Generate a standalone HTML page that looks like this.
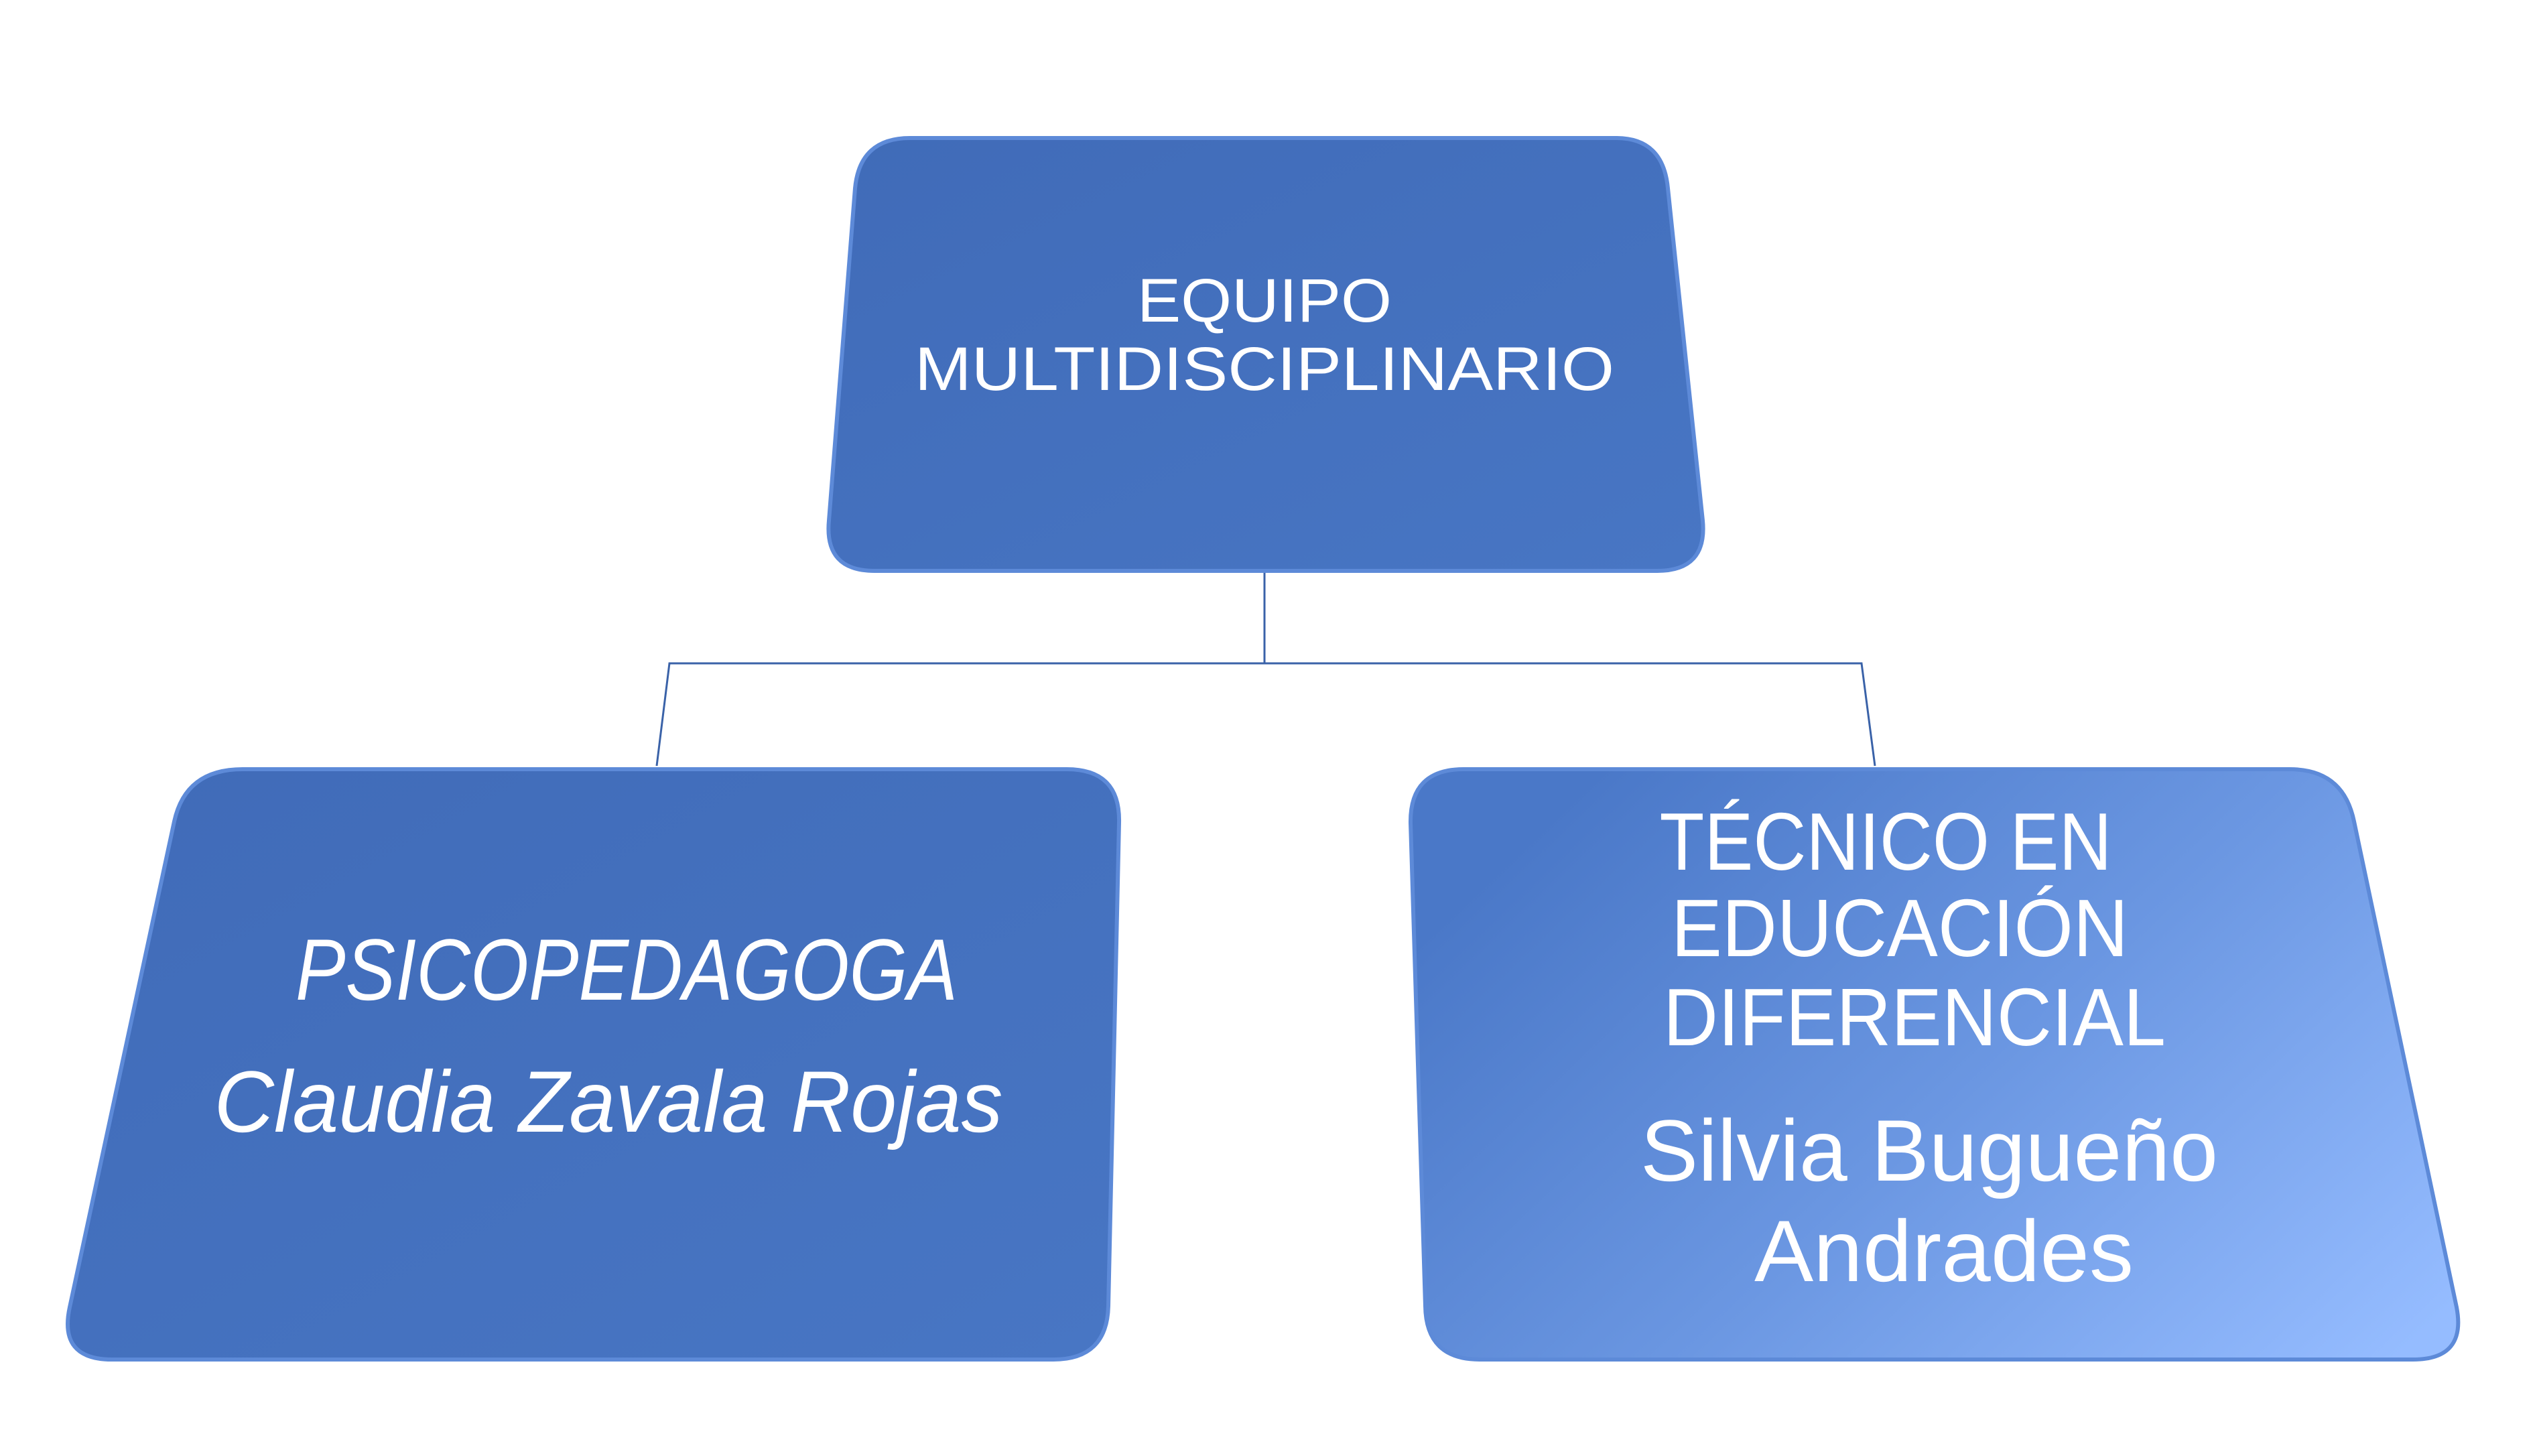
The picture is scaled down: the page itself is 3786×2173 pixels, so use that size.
<!DOCTYPE html>
<html><head><meta charset="utf-8"><style>
html,body{margin:0;padding:0;background:#fff;}
svg{display:block;}
text{font-family:"Liberation Sans",sans-serif;fill:#fff;}
</style></head><body>
<svg width="3786" height="2173" viewBox="0 0 3786 2173" xmlns="http://www.w3.org/2000/svg">
<defs>
<linearGradient id="g1" x1="0" y1="0" x2="1" y2="1">
<stop offset="0" stop-color="#406bb8"/><stop offset="1" stop-color="#4876c4"/>
</linearGradient>
<linearGradient id="g2" x1="0" y1="0.3" x2="1" y2="0.9">
<stop offset="0" stop-color="#4a78c8"/><stop offset="0.5" stop-color="#6b97e2"/><stop offset="1" stop-color="#95bcff"/>
</linearGradient>
</defs>
<g transform="translate(-8,-5)">
<g fill="none" stroke="#3a62a8" stroke-width="3">
<line x1="1895" y1="857" x2="1895" y2="995"/>
<polyline points="988,1148 1007,995 2786,995 2806,1148"/>
</g>
<g stroke="#5d8ad8" stroke-width="6">
<path d="M1366,211 L2420,211 Q2490,211 2497,286 L2549,782 Q2556,857 2481,857 L1313,857 Q1238,857 1245,782 L1284,286 Q1291,211 1366,211Z" fill="url(#g1)"/>
<path d="M370,1153 L1600,1153 Q1680,1153 1678,1233 L1662,1954 Q1660,2034 1580,2034 L175,2034 Q95,2034 112,1956 L268,1231 Q285,1153 370,1153Z" fill="url(#g1)"/>
<path d="M2192,1153 L3425,1153 Q3505,1153 3521,1231 L3674,1956 Q3689,2034 3609,2034 L2216,2034 Q2136,2034 2135,1954 L2113,1233 Q2112,1153 2192,1153Z" fill="url(#g2)"/>
</g>
<text x="1895" y="485" font-size="92" text-anchor="middle" textLength="380" lengthAdjust="spacingAndGlyphs">EQUIPO</text>
<text x="1895" y="587" font-size="92" text-anchor="middle" textLength="1044" lengthAdjust="spacingAndGlyphs">MULTIDISCIPLINARIO</text>
<text x="943" y="1497" font-size="130" font-style="italic" text-anchor="middle" textLength="988" lengthAdjust="spacingAndGlyphs">PSICOPEDAGOGA</text>
<text x="916" y="1694" font-size="130" font-style="italic" text-anchor="middle" textLength="1177" lengthAdjust="spacingAndGlyphs">Claudia Zavala Rojas</text>
<text x="2822" y="1303" font-size="122" text-anchor="middle" textLength="675" lengthAdjust="spacingAndGlyphs">TÉCNICO EN</text>
<text x="2843" y="1432" font-size="122" text-anchor="middle" textLength="682" lengthAdjust="spacingAndGlyphs">EDUCACIÓN</text>
<text x="2865" y="1565" font-size="122" text-anchor="middle" textLength="750" lengthAdjust="spacingAndGlyphs">DIFERENCIAL</text>
<text x="2887" y="1767" font-size="130" text-anchor="middle" textLength="862" lengthAdjust="spacingAndGlyphs">Silvia Bugueño</text>
<text x="2909" y="1917" font-size="130" text-anchor="middle" textLength="566" lengthAdjust="spacingAndGlyphs">Andrades</text>
</g>
</svg>
</body></html>
